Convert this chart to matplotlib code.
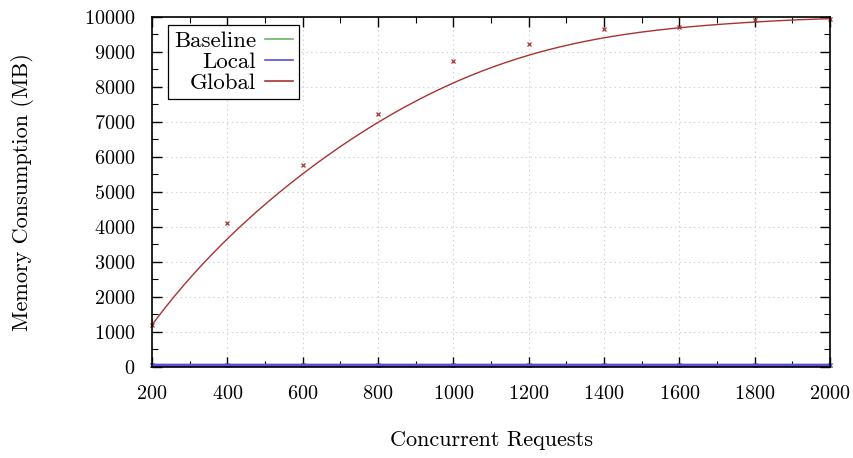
import numpy as np
import matplotlib
matplotlib.use('Agg')
import matplotlib.pyplot as plt
from math import comb

plt.rcParams['font.family'] = ['cmr10', 'DejaVu Serif']
plt.rcParams['mathtext.fontset'] = 'cm'
plt.rcParams['axes.unicode_minus'] = False
plt.rcParams['axes.formatter.use_mathtext'] = True

requests = [200, 400, 600, 800, 1000, 1200, 1400, 1600, 1800, 2000]
baseline = [40, 40, 40, 40, 40, 40, 40, 40, 40, 40]
local = [55, 55, 55, 55, 55, 55, 55, 55, 55, 55]
glob = [1200, 4100, 5780, 7230, 8750, 9230, 9650, 9700, 9900, 9950]


def bezier(xs, ys, n=300):
    # gnuplot-style "smooth bezier" using the data points as control points
    xs = np.asarray(xs, float)
    ys = np.asarray(ys, float)
    deg = len(xs) - 1
    t = np.linspace(0, 1, n)
    bx = np.zeros(n)
    by = np.zeros(n)
    for i in range(deg + 1):
        w = comb(deg, i) * t**i * (1 - t)**(deg - i)
        bx += w * xs[i]
        by += w * ys[i]
    return bx, by


c_base = '#6ab56a'
c_local = '#5a4fd6'
c_glob = '#a83232'

fig = plt.figure(figsize=(8.54, 4.58), dpi=100)
ax = fig.add_axes([0.178, 0.199, 0.794, 0.764])

for ys, c, lab in [(baseline, c_base, 'Baseline'), (local, c_local, 'Local'), (glob, c_glob, 'Global')]:
    bx, by = bezier(requests, ys)
    ax.plot(bx, by, color=c, linewidth=1.0 if lab == 'Global' else 2.5, label=lab)
    ax.plot(requests, ys, linestyle='none', marker='x', markersize=3.5, markeredgewidth=0.9, color=c,
            clip_on=False)

ax.set_xlim(200, 2000)
ax.set_ylim(0, 10000)
ax.set_xticks(np.arange(200, 2001, 200))
ax.set_xticks(np.arange(200, 2001, 100), minor=True)
ax.set_yticks(np.arange(0, 10001, 1000))
ax.set_yticks(np.arange(0, 10001, 500), minor=True)
ax.grid(True, which='major', linestyle=(0, (1.2, 3)), color='#cfcfcf', linewidth=0.8)
ax.tick_params(which='both', direction='in', top=True, right=True, labelsize=14.5)
ax.tick_params(which='major', length=7, width=1.0)
ax.tick_params(which='minor', length=4, width=0.8)
ax.tick_params(axis='x', which='major', pad=13)
ax.tick_params(axis='y', which='major', pad=12)
for s in ax.spines.values():
    s.set_linewidth(1.2)

ax.set_xlabel('Concurrent Requests', fontsize=16, labelpad=20)
ax.set_ylabel('Memory Consumption (MB)', fontsize=16, labelpad=36)

leg = ax.legend(loc='upper left', markerfirst=False, fontsize=16.5, fancybox=False,
                edgecolor='black', framealpha=1, handlelength=1.2, borderpad=0.25,
                labelspacing=0.05, handletextpad=0.4, borderaxespad=0,
                bbox_to_anchor=(0.024, 0.977))
leg.get_frame().set_linewidth(0.9)
leg._legend_box.align = 'right'
for h in leg.get_lines():
    h.set_linewidth(1.2)

fig.savefig('out.png', dpi=100)
